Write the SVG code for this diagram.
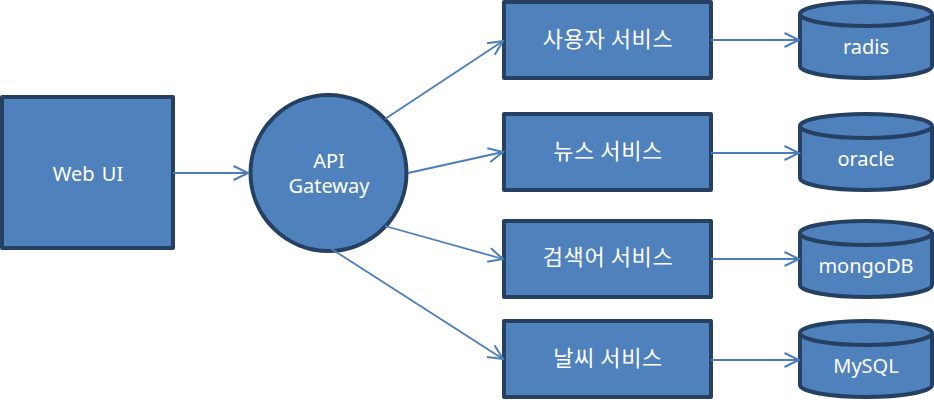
<svg xmlns="http://www.w3.org/2000/svg" width="934" height="400" viewBox="0 0 934 400">
<style>
.s{fill:#4f81bd;stroke:#254061;stroke-width:4;stroke-linejoin:round}
.e{fill:#4f81bd;stroke:#254061;stroke-width:4}
.n{fill:none;stroke:#254061;stroke-width:4}
.t{fill:#fff;font-family:"Noto Sans","Noto Sans CJK KR",sans-serif;font-size:20px;text-anchor:middle}
.k{fill:#fff;font-family:"Noto Sans CJK KR",sans-serif;font-size:22px;letter-spacing:.6px;text-anchor:middle}
.l{fill:none;stroke:#4a7ebb;stroke-width:1.8;marker-end:url(#a)}
</style>
<defs>
<marker id="a" markerUnits="userSpaceOnUse" markerWidth="20" markerHeight="20" refX="17" refY="10" orient="auto">
<path d="M2.5 3L17 10L2.5 17" fill="none" stroke="#4a7ebb" stroke-width="2"/>
</marker>
<path id="cyl" d="M0 12A66 12 0 0 1 132 12V64A66 12 0 0 1 0 64Z"/>
<path id="rim" d="M0 12A66 12 0 0 0 132 12"/>
</defs>
<rect width="934" height="400" fill="#fff"/>
<g id="webui"><rect class="s" x="2" y="97" width="171" height="151"/><text class="t" x="88" y="181" word-spacing="2">Web UI</text></g>
<g id="gateway"><circle class="e" cx="328.500" cy="173" r="78"/><text class="t"><tspan x="329" y="168">API</tspan><tspan x="329" y="193">Gateway</tspan></text></g>
<g id="svc1"><rect class="s" x="504" y="2" width="207" height="76"/><text class="k" x="608" y="47">사용자 서비스</text></g>
<g id="svc2"><rect class="s" x="504" y="114" width="207" height="76"/><text class="k" x="608" y="159">뉴스 서비스</text></g>
<g id="svc3"><rect class="s" x="504" y="221" width="207" height="76"/><text class="k" x="608" y="265">검색어 서비스</text></g>
<g id="svc4"><rect class="s" x="504" y="321" width="207" height="76"/><text class="k" x="608" y="366">날씨 서비스</text></g>
<g id="db1"><use href="#cyl" class="e" x="800" y="2"/><use href="#rim" class="n" x="800" y="2"/><text class="t" x="866" y="54">radis</text></g>
<g id="db2"><use href="#cyl" class="e" x="800" y="114"/><use href="#rim" class="n" x="800" y="114"/><text class="t" x="866" y="166">oracle</text></g>
<g id="db3"><use href="#cyl" class="e" x="800" y="221"/><use href="#rim" class="n" x="800" y="221"/><text class="t" x="866" y="273">mongoDB</text></g>
<g id="db4"><use href="#cyl" class="e" x="800" y="321"/><use href="#rim" class="n" x="800" y="321"/><text class="t" x="866" y="373">MySQL</text></g>
<g id="connectors">
<line class="l" x1="173" y1="173" x2="248" y2="173"/>
<line class="l" x1="385" y1="119" x2="503" y2="41"/>
<line class="l" x1="408" y1="173" x2="503" y2="152"/>
<line class="l" x1="385" y1="226" x2="503" y2="259"/>
<line class="l" x1="330" y1="248" x2="503" y2="359"/>
<line class="l" x1="711" y1="40" x2="799" y2="40"/>
<line class="l" x1="711" y1="153" x2="799" y2="153"/>
<line class="l" x1="711" y1="259" x2="799" y2="259"/>
<line class="l" x1="711" y1="360" x2="799" y2="360"/>
</g>
</svg>
